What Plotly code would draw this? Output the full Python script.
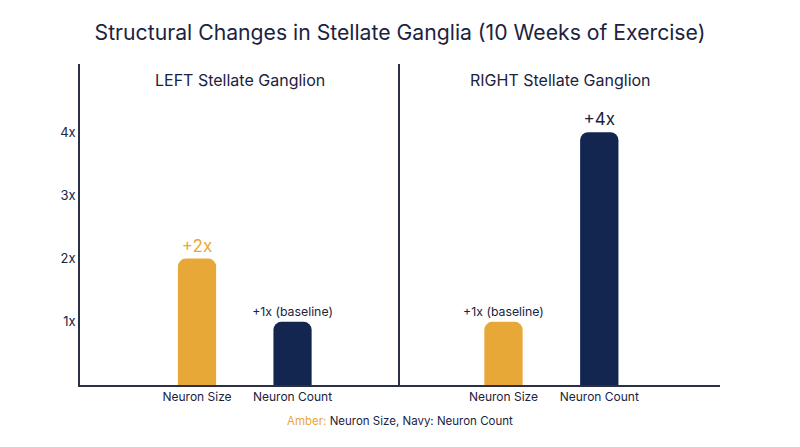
import plotly.graph_objects as go
from plotly.subplots import make_subplots

categories = ["Neuron Size", "Neuron Count"]
left_values = [2, 1]
right_values = [1, 4]
left_labels = ["+2x", "+1x (baseline)"]
right_labels = ["+1x (baseline)", "+4x"]
panel_titles = ["LEFT Stellate Ganglion", "RIGHT Stellate Ganglion"]
y_tick_vals = [1, 2, 3, 4]
y_tick_text = ["1x", "2x", "3x", "4x"]

AMBER = "#E8A838"
NAVY = "#12264F"
DARK = "#1B2340"
AXIS = "#2B3047"
FONT = "Inter"

bar_colors = [AMBER, NAVY]

fig = make_subplots(rows=1, cols=2, horizontal_spacing=0.0)

fig.add_trace(go.Bar(
    x=categories, y=left_values, width=0.4,
    marker=dict(color=bar_colors, cornerradius=8, line=dict(width=0)),
    text=left_labels, textposition="outside", constraintext="none", cliponaxis=False,
    textfont=dict(family=FONT, color=[AMBER, DARK], size=[17, 12.3]),
    showlegend=False, hoverinfo="skip"), row=1, col=1)

fig.add_trace(go.Bar(
    x=categories, y=right_values, width=0.4,
    marker=dict(color=bar_colors, cornerradius=8, line=dict(width=0)),
    text=right_labels, textposition="outside", constraintext="none", cliponaxis=False,
    textfont=dict(family=FONT, color=[DARK, DARK], size=[12.3, 17]),
    showlegend=False, hoverinfo="skip"), row=1, col=2)

xcommon = dict(showline=True, linecolor=AXIS, linewidth=1.5, showgrid=False, zeroline=False,
               ticks="", tickfont=dict(family=FONT, size=12, color=DARK))
fig.update_xaxes(**xcommon)
fig.update_xaxes(range=[-1.225, 2.125], domain=[0.0, 0.5], row=1, col=1)
fig.update_xaxes(range=[-1.08, 2.26], domain=[0.5, 1.0], row=1, col=2)

ycommon = dict(range=[0, 5.08], showline=True, linecolor=AXIS, linewidth=1.5, showgrid=False,
               zeroline=False, ticks="", tickvals=y_tick_vals, ticktext=y_tick_text,
               tickfont=dict(family=FONT, size=13, color=DARK))
fig.update_yaxes(**ycommon)
fig.update_yaxes(showticklabels=False, row=1, col=2)

fig.add_annotation(text=panel_titles[0], xref="x domain", yref="paper", x=0.5, y=1,
                   yshift=-16, yanchor="middle", showarrow=False,
                   font=dict(family=FONT, size=16, color=DARK))
fig.add_annotation(text=panel_titles[1], xref="x2 domain", yref="paper", x=0.5, y=1,
                   yshift=-16, yanchor="middle", showarrow=False,
                   font=dict(family=FONT, size=16, color=DARK))

fig.add_annotation(text=f"<span style='color:{AMBER}'>Amber:</span> Neuron Size, Navy: Neuron Count",
                   xref="paper", yref="paper", x=0.5, y=0, yshift=-36, yanchor="middle",
                   showarrow=False, font=dict(family=FONT, size=11.5, color=DARK))

fig.update_layout(
    width=800, height=447,
    margin=dict(l=72, r=88, t=56, b=70),
    paper_bgcolor="white", plot_bgcolor="white",
    title=dict(text="Structural Changes in Stellate Ganglia (10 Weeks of Exercise)",
               x=0.49, xanchor="center", y=1 - 25 / 447, yanchor="middle",
               font=dict(family=FONT, size=21.2, color=DARK)),
    bargap=0.2,
)

fig.write_html("out.html")
